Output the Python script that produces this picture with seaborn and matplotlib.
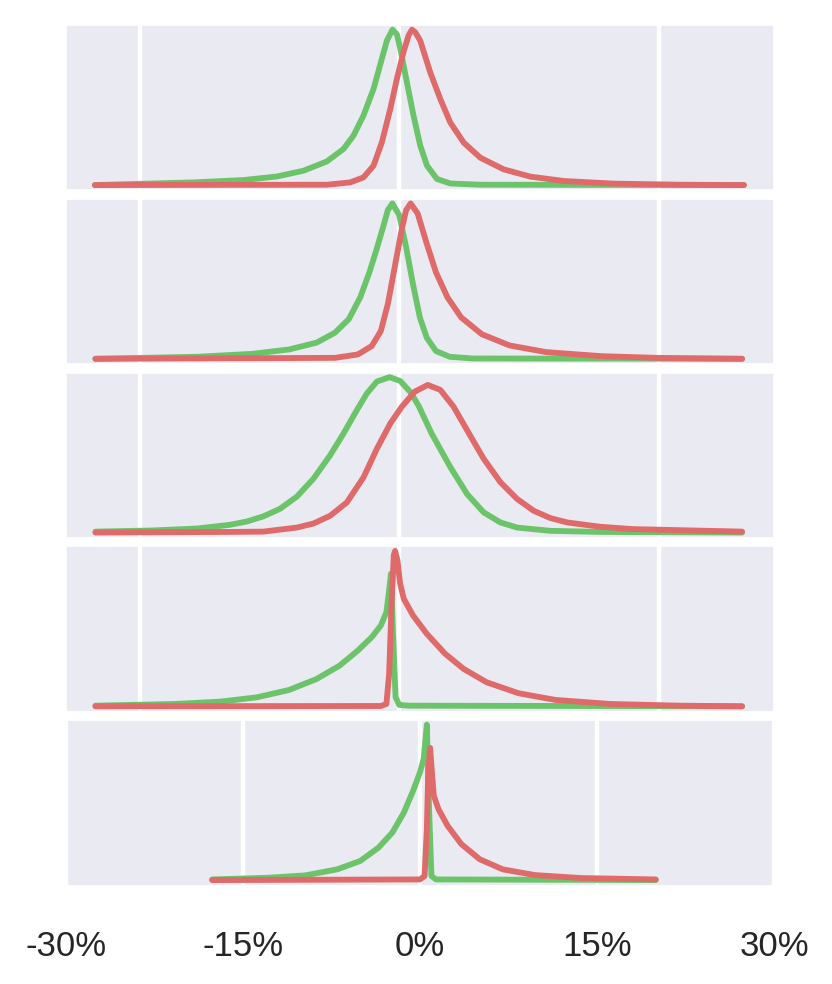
import numpy as np
import pandas as pd
import matplotlib
matplotlib.use('Agg')
import matplotlib.pyplot as plt
import seaborn as sns

# density curves, y normalised to the tallest curve of each panel
green1_x = [-23.47, -15.88, -12.02, -9.44, -7.39, -5.58, -4.30, -3.53, -2.76, -1.98, -1.34, -0.95, -0.52,
            -0.18, 0.08, 0.59, 1.10, 1.62, 2.14, 2.91, 3.94, 6.25, 26.56]
green1_y = [0, 0.017, 0.032, 0.055, 0.092, 0.152, 0.232, 0.318, 0.447, 0.619, 0.813, 0.93, 1.0,
            0.97, 0.877, 0.662, 0.447, 0.254, 0.125, 0.039, 0.01, 0.002, 0]
red1_x = [-23.47, -5.58, -3.78, -2.76, -1.98, -1.34, -0.69, -0.18, 0.33, 0.72, 0.98, 1.24, 1.62, 2.39,
          3.17, 3.94, 4.97, 6.25, 8.05, 10.12, 12.69, 16.55, 21.7, 26.59]
red1_y = [0, 0.002, 0.017, 0.049, 0.125, 0.275, 0.49, 0.684, 0.856, 0.963, 1.0, 0.983, 0.929, 0.725,
          0.553, 0.402, 0.273, 0.176, 0.101, 0.054, 0.026, 0.009, 0.002, 0]

green2_x = [-23.43, -15.58, -11.33, -8.50, -6.37, -4.96, -3.89, -3.01, -2.30, -1.77, -1.24, -0.88, -0.53,
            0.0, 0.53, 1.06, 1.59, 2.12, 2.83, 3.89, 5.66, 26.44]
green2_y = [0, 0.013, 0.032, 0.06, 0.104, 0.168, 0.255, 0.395, 0.557, 0.698, 0.849, 0.957, 1.0,
            0.924, 0.719, 0.48, 0.266, 0.136, 0.05, 0.013, 0.002, 0]
red2_x = [-23.43, -4.96, -3.19, -2.12, -1.42, -0.88, -0.35, 0.18, 0.53, 0.88, 1.42, 2.12, 2.83, 3.72,
          4.78, 6.37, 8.50, 11.33, 15.58, 19.82, 26.44]
red2_y = [0, 0.006, 0.028, 0.082, 0.179, 0.352, 0.59, 0.827, 0.957, 1.0, 0.935, 0.741, 0.557, 0.395,
          0.266, 0.158, 0.086, 0.043, 0.017, 0.006, 0]

green3_x = [-23.43, -19.12, -15.58, -13.05, -11.76, -10.48, -9.19, -7.90, -6.62, -5.33, -4.30, -3.27,
            -2.49, -1.72, -0.75, 0.08, 0.85, 1.5, 2.5, 3.94, 5.23, 6.51, 7.80, 9.09, 11.66, 15.52, 26.44]
green3_y = [0.006, 0.013, 0.026, 0.05, 0.071, 0.104, 0.153, 0.231, 0.346, 0.497, 0.637, 0.788,
            0.896, 0.972, 1.0, 0.975, 0.905, 0.815, 0.637, 0.421, 0.248, 0.13, 0.065, 0.032, 0.011, 0.004, 0.0]
red3_x = [-23.43, -13.05, -10.48, -7.90, -6.62, -5.33, -4.04, -2.75, -1.72, -0.69, 0.2, 1.2, 2.2, 3.17,
          4.19, 5.23, 6.51, 7.80, 9.09, 10.37, 11.66, 12.95, 15.52, 18.05, 26.44]
red3_y = [0, 0.004, 0.006, 0.032, 0.058, 0.108, 0.194, 0.356, 0.54, 0.702, 0.81, 0.907, 0.95, 0.918,
          0.81, 0.659, 0.475, 0.324, 0.216, 0.14, 0.093, 0.065, 0.037, 0.022, 0.006]

green4_x = [-23.43, -17.35, -13.8, -10.97, -8.5, -6.37, -4.6, -3.19, -2.12, -1.42, -0.99, -0.78, -0.64,
            -0.46, -0.28, 0.0, 0.71, 26.44]
green4_y = [0.004, 0.015, 0.03, 0.058, 0.105, 0.176, 0.262, 0.359, 0.445, 0.52, 0.606, 0.746, 0.854,
            0.424, 0.058, 0.009, 0.004, 0.0]
red4_x = [-23.43, -1.42, -0.99, -0.78, -0.6, -0.42, -0.32, -0.14, 0.07, 0.35, 1.06, 2.12, 3.54, 4.96,
          6.73, 9.2, 12.04, 16.28, 21.6, 26.44]
red4_y = [0, 0.002, 0.015, 0.209, 0.639, 0.974, 1.0, 0.94, 0.789, 0.692, 0.585, 0.467, 0.338, 0.241,
          0.155, 0.084, 0.041, 0.015, 0.004, 0]

green5_x = [-17.61, -12.86, -9.74, -7.01, -5.06, -3.51, -2.34, -1.36, -0.58, 0.0, 0.31, 0.58, 0.78,
            0.97, 1.36, 19.98]
green5_y = [0.004, 0.015, 0.03, 0.069, 0.123, 0.209, 0.306, 0.435, 0.575, 0.694, 0.78, 1.0, 0.435,
            0.026, 0.004, 0]
red5_x = [-17.61, 0.0, 0.39, 0.58, 0.7, 0.86, 1.01, 1.17, 1.56, 2.34, 3.51, 5.06, 7.01, 9.74, 13.64, 19.98]
red5_y = [0, 0.004, 0.026, 0.328, 0.694, 0.851, 0.694, 0.543, 0.457, 0.349, 0.231, 0.134, 0.069, 0.032,
          0.013, 0.004]

bottom_ticks = [-30, -15, 0, 15, 30]
bottom_labels = ['-30%', '-15%', '0%', '15%', '30%']
top_ticks = [-20, 0, 20]

GREEN = '#6cc46a'
RED = '#df6a6a'

sns.set_theme(style='darkgrid')
plt.rcParams['font.family'] = ['Liberation Sans', 'DejaVu Sans']

fig, axes = plt.subplots(5, 1, figsize=(8.32, 9.84), dpi=100)
fig.subplots_adjust(left=0.0793, right=0.9303, top=0.9746, bottom=0.1001, hspace=0.05)

panels = [(green1_x, green1_y, red1_x, red1_y),
          (green2_x, green2_y, red2_x, red2_y),
          (green3_x, green3_y, red3_x, red3_y),
          (green4_x, green4_y, red4_x, red4_y),
          (green5_x, green5_y, red5_x, red5_y)]

for i, (gx, gy, rx, ry) in enumerate(panels):
    ax = axes[i]
    sns.lineplot(x=gx, y=gy, ax=ax, color=GREEN)
    sns.lineplot(x=rx, y=ry, ax=ax, color=RED)
    for line in ax.lines:
        line.set_linewidth(4.2)
        line.set_solid_capstyle('round')
        line.set_solid_joinstyle('round')
    ax.grid(True, axis='x', color='white', linewidth=3.2)
    ax.set_ylim(-0.035, 1.03)
    ax.set_yticks([])
    ax.set_ylabel('')
    if i < 4:
        ax.set_xlim(-25.7, 28.9)
        ax.set_xticks(top_ticks)
        ax.set_xticklabels([])
    else:
        ax.set_xlim(-30, 30)
        ax.set_xticks(bottom_ticks)
        ax.set_xticklabels(bottom_labels)
        ax.tick_params(axis='x', labelsize=25, pad=32, length=0, labelcolor='#262626')

plt.savefig('out.png', dpi=100)
